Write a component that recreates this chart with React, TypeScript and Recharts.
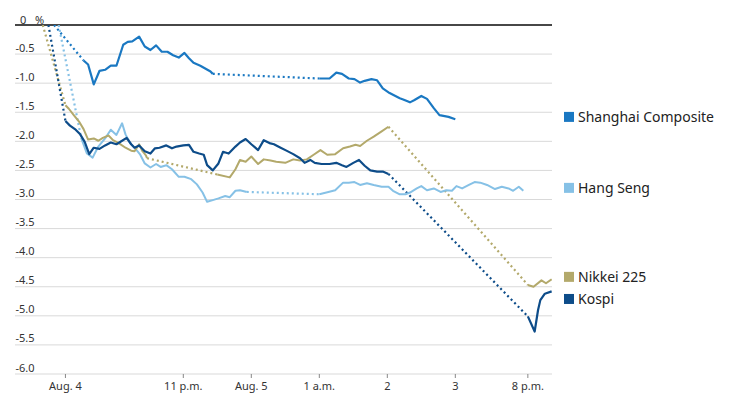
import React from 'react';
import {
  LineChart,
  Line,
  XAxis,
  YAxis,
  CartesianGrid,
  ReferenceLine,
  ReferenceDot,
} from 'recharts';

type Pt = [number, number];

// x is minutes on the chart's compressed clock (11 p.m. Aug. 4 = 180)
const X_MIN = 31.5;
const X_MAX = 505.3;
const xTicks = [76, 180, 240, 300, 360, 420, 484];
const xTickLabels = ['Aug. 4', '11 p.m.', 'Aug. 5', '1 a.m.', '2', '3', '8 p.m.'];

const yTicks = [0, -0.5, -1, -1.5, -2, -2.5, -3, -3.5, -4, -4.5, -5, -5.5, -6];
const yTickLabels = ['0', '-0.5', '-1.0', '-1.5', '-2.0', '-2.5', '-3.0', '-3.5', '-4.0', '-4.5', '-5.0', '-5.5', '-6.0'];

// Shanghai Composite, % change
const shanghaiStart = 66;
const shanghai1: Pt[] = [
  [92, -0.61], [96, -0.68], [101, -1.02], [106, -0.79], [111, -0.77], [116, -0.7], [121, -0.7],
  [127, -0.34], [131, -0.29], [135, -0.28], [141, -0.2], [146, -0.37], [151, -0.43], [156, -0.35],
  [161, -0.46], [166, -0.46], [171, -0.52], [176, -0.56], [181, -0.48], [185, -0.57], [189, -0.65],
  [195, -0.7], [204, -0.8], [206, -0.84],
];
const shanghai2: Pt[] = [
  [300, -0.92], [309, -0.92], [315, -0.82], [320, -0.84], [326, -0.92], [331, -0.93], [336, -0.99],
  [340, -0.96], [346, -0.93], [351, -0.95], [356, -1.09], [362, -1.17], [365, -1.2], [371, -1.26],
  [374, -1.28], [380, -1.33], [384, -1.29], [390, -1.22], [395, -1.27], [401, -1.43], [406, -1.55],
  [414, -1.58], [420, -1.62],
];

// Hang Seng
const hangSengStart = 70;
const hangSeng1: Pt[] = [
  [90, -1.95], [95, -2.21], [100, -2.28], [105, -2.09], [111, -1.95], [116, -1.8], [121, -1.89],
  [126, -1.69], [129, -1.88], [133, -2.03], [137, -2.11], [142, -2.23], [146, -2.38], [151, -2.45],
  [156, -2.39], [160, -2.44], [165, -2.41], [170, -2.48], [176, -2.61], [181, -2.61], [187, -2.65],
  [192, -2.74], [197, -2.88], [201, -3.04], [206, -3.01], [211, -2.98], [217, -2.94], [221, -2.96],
  [226, -2.85], [230, -2.84], [236, -2.87],
];
const hangSeng2: Pt[] = [
  [300, -2.91], [308, -2.87], [314, -2.84], [321, -2.71], [326, -2.71], [331, -2.7], [336, -2.75],
  [342, -2.72], [348, -2.75], [355, -2.78], [361, -2.78], [365, -2.85], [371, -2.91], [376, -2.91],
  [380, -2.88], [386, -2.81], [390, -2.77], [395, -2.84], [401, -2.81], [407, -2.87], [412, -2.84],
  [417, -2.85], [421, -2.77], [426, -2.81], [432, -2.75], [437, -2.7], [442, -2.71], [448, -2.75],
  [455, -2.82], [461, -2.78], [467, -2.81], [471, -2.85], [476, -2.78], [480, -2.85],
];

// Nikkei 225
const nikkeiStart = 56;
const nikkei1: Pt[] = [
  [76, -1.38], [79, -1.44], [83, -1.54], [88, -1.66], [92, -1.79], [96, -1.97], [101, -1.95],
  [105, -1.99], [109, -1.94], [114, -1.9], [118, -1.98], [123, -2.03], [129, -2.11], [134, -2.16],
  [137, -2.17], [141, -2.05], [144, -2.17], [147, -2.24], [148, -2.29],
];
const nikkei2: Pt[] = [
  [210, -2.57], [221, -2.62], [226, -2.48], [230, -2.32], [235, -2.35], [240, -2.26], [246, -2.39],
  [251, -2.31], [257, -2.33], [262, -2.35], [270, -2.37], [277, -2.31], [283, -2.33], [289, -2.31],
  [295, -2.23], [301, -2.15], [307, -2.23], [314, -2.22], [321, -2.12], [327, -2.09], [332, -2.06],
  [336, -2.08], [342, -1.99], [348, -1.92], [355, -1.83], [361, -1.75],
];
const nikkei3: Pt[] = [[484, -4.47], [489, -4.5], [496, -4.39], [500, -4.44], [505, -4.37]];

// Kospi
const kospiStart = 61;
const kospi1: Pt[] = [
  [76, -1.65], [80, -1.73], [85, -1.8], [89, -1.88], [93, -2.01], [97, -2.22], [101, -2.11],
  [106, -2.13], [111, -2.07], [116, -2.02], [121, -2.05], [126, -1.99], [130, -1.94], [134, -2.05],
  [137, -2.11], [141, -2.07], [146, -2.17], [151, -2.21], [155, -2.12], [159, -2.11], [165, -2.07],
  [170, -2.12], [174, -2.09], [180, -2.07], [185, -2.06], [189, -2.18], [194, -2.21], [198, -2.23],
  [201, -2.41], [206, -2.5], [211, -2.38], [215, -2.18], [220, -2.21], [226, -2.09], [230, -2.02],
  [235, -1.96], [240, -2.05], [246, -2.15], [251, -1.98], [256, -2.03], [260, -2.05], [265, -2.1],
  [271, -2.16], [277, -2.22], [283, -2.29], [287, -2.37], [292, -2.32], [296, -2.37], [302, -2.39],
  [309, -2.39], [315, -2.37], [320, -2.41], [324, -2.44], [330, -2.37], [335, -2.32], [340, -2.42],
  [345, -2.5], [351, -2.52], [356, -2.52], [361, -2.56],
];
const kospi2: Pt[] = [[484, -5.01], [490, -5.27], [493, -4.9], [495, -4.73], [499, -4.62], [505, -4.58]];

interface Series {
  name: string;
  color: string;
  width: number;
  start: number;
  sessions: Pt[][];
  legendAt: number;
}

// drawn in this order (back to front)
const series: Series[] = [
  { name: 'Hang Seng', color: '#86c1e6', width: 2, start: hangSengStart, sessions: [hangSeng1, hangSeng2], legendAt: -2.8 },
  { name: 'Nikkei 225', color: '#b3a96b', width: 2, start: nikkeiStart, sessions: [nikkei1, nikkei2, nikkei3], legendAt: -4.33 },
  { name: 'Shanghai Composite', color: '#1a78c2', width: 2.2, start: shanghaiStart, sessions: [shanghai1, shanghai2], legendAt: -1.58 },
  { name: 'Kospi', color: '#0d4c89', width: 2.2, start: kospiStart, sessions: [kospi1, kospi2], legendAt: -4.71 },
];

const toRows = (pts: Pt[]) => pts.map(([t, v]) => ({ t, v }));

// dotted links: previous close -> open, and across market breaks
const connectors = (s: Series): Pt[][] => {
  const out: Pt[][] = [[[s.start, 0], s.sessions[0][0]]];
  for (let i = 1; i < s.sessions.length; i++) {
    const prev = s.sessions[i - 1];
    out.push([prev[prev.length - 1], s.sessions[i][0]]);
  }
  return out;
};

const FONT = '"Noto Sans", "DejaVu Sans", sans-serif';
const PLOT_LEFT = 15;

// y labels sit just above their gridline, left-aligned at the plot edge
const YLabel = ({ cx, cy, index }: any) => {
  if (index === 0) {
    return (
      <g fontFamily={FONT} fontSize={11} fill="#333">
        <text x={cx + 5} y={cy - 1.5}>0</text>
        <text x={cx + 20} y={cy - 1.5}>%</text>
      </g>
    );
  }
  return (
    <text x={cx + 0.5} y={cy - 2.5} fontFamily={FONT} fontSize={11} fill="#333">
      {yTickLabels[index]}
    </text>
  );
};

const XTick = (props: any) => {
  const { x, y, index } = props;
  return (
    <text x={x} y={y} dy={10} textAnchor="middle" fontFamily={FONT} fontSize={11} fill="#333">
      {xTickLabels[index]}
    </text>
  );
};

const LegendMark = ({ cx, cy, color, name }: any) => (
  <g>
    <rect x={cx + 12} y={cy - 5} width={10} height={10} fill={color} />
    <text x={cx + 26} y={cy} dy="0.36em" fontFamily={FONT} fontSize={14} fill="#222">
      {name}
    </text>
  </g>
);

export default function App() {
  return (
    <div style={{ position: 'absolute', left: 0, top: 0, width: 732, height: 405, background: '#fff' }}>
      <LineChart width={732} height={405} margin={{ top: 25, right: 180, bottom: 0, left: PLOT_LEFT }}>
        <CartesianGrid horizontal vertical={false} stroke="#d9d9d9" strokeWidth={1} />
        <XAxis
          type="number"
          dataKey="t"
          domain={[X_MIN, X_MAX]}
          ticks={xTicks}
          allowDataOverflow
          axisLine={false}
          tickLine={{ stroke: '#888' }}
          tickSize={4}
          tickMargin={2}
          height={31}
          tick={<XTick />}
          interval={0}
        />
        <YAxis type="number" domain={[-6, 0]} ticks={yTicks} hide allowDataOverflow />
        <ReferenceLine y={0} stroke="#111" strokeWidth={1.5} />
        {yTicks.map((v, i) => (
          <ReferenceDot
            key={`ylab-${i}`}
            x={X_MIN}
            y={v}
            r={0}
            ifOverflow="visible"
            shape={(p: any) => <YLabel cx={p.cx} cy={p.cy} index={i} />}
          />
        ))}
        {series.map((s) =>
          connectors(s).map((c, i) => (
            <Line
              key={`${s.name}-gap-${i}`}
              data={toRows(c)}
              dataKey="v"
              type="linear"
              stroke={s.color}
              strokeWidth={2.2}
              strokeDasharray="2 3"
              dot={false}
              activeDot={false}
              isAnimationActive={false}
            />
          ))
        )}
        {series.map((s) =>
          s.sessions.map((seg, i) => (
            <Line
              key={`${s.name}-seg-${i}`}
              data={toRows(seg)}
              dataKey="v"
              type="linear"
              stroke={s.color}
              strokeWidth={s.width}
              strokeLinejoin="round"
              dot={false}
              activeDot={false}
              isAnimationActive={false}
            />
          ))
        )}
        {series.map((s) => (
          <ReferenceDot
            key={`${s.name}-legend`}
            x={X_MAX}
            y={s.legendAt}
            r={0}
            ifOverflow="visible"
            shape={(p: any) => <LegendMark cx={p.cx} cy={p.cy} color={s.color} name={s.name} />}
          />
        ))}
      </LineChart>
    </div>
  );
}
